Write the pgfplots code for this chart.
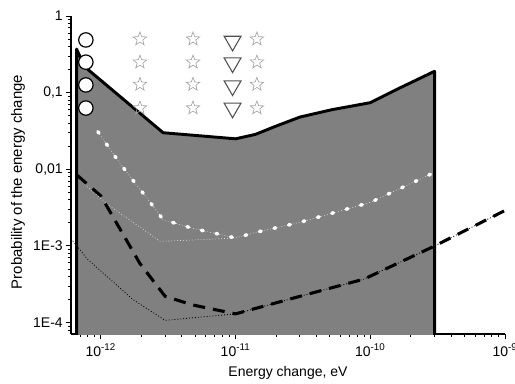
\documentclass[border=0pt]{standalone}
\usepackage{fontspec}
\setmainfont{Liberation Sans}
\usepackage{pgfplots}
\pgfplotsset{compat=1.18}
\definecolor{fillgray}{RGB}{128,128,128}
\definecolor{stargray}{RGB}{165,165,165}
\definecolor{trigray}{RGB}{80,80,80}
\pgfdeclareplotmark{ostar}{%
  \pgfpathmoveto{\pgfpointpolar{90}{\pgfplotmarksize}}%
  \pgfpathlineto{\pgfpointpolar{126}{0.42\pgfplotmarksize}}%
  \pgfpathlineto{\pgfpointpolar{162}{\pgfplotmarksize}}%
  \pgfpathlineto{\pgfpointpolar{198}{0.42\pgfplotmarksize}}%
  \pgfpathlineto{\pgfpointpolar{234}{\pgfplotmarksize}}%
  \pgfpathlineto{\pgfpointpolar{270}{0.42\pgfplotmarksize}}%
  \pgfpathlineto{\pgfpointpolar{306}{\pgfplotmarksize}}%
  \pgfpathlineto{\pgfpointpolar{342}{0.42\pgfplotmarksize}}%
  \pgfpathlineto{\pgfpointpolar{18}{\pgfplotmarksize}}%
  \pgfpathlineto{\pgfpointpolar{54}{0.42\pgfplotmarksize}}%
  \pgfpathclose
  \pgfusepathqstroke
}
\begin{document}
\begin{tikzpicture}[x=1pt,y=1pt]
\useasboundingbox (-53.25,-36.75) rectangle (333,250.5);
\begin{axis}[
  at={(0,0)}, anchor=south west,
  scale only axis, width=325.5pt, height=238.5pt,
  xmode=log, ymode=log,
  xmin=6e-13, xmax=1e-9, ymin=7.1e-5, ymax=1,
  axis lines*=left,
  axis line style={line width=0.8pt},
  every tick/.style={black, line width=0.7pt},
  tick align=outside,
  major tick length=4pt, minor tick length=2.2pt,
  xtick={1e-12,1e-11,1e-10,1e-9},
  xticklabels={10\textsuperscript{-12},10\textsuperscript{-11},10\textsuperscript{-10},10\textsuperscript{-9}},
  minor xtick={7e-13,8e-13,9e-13,2e-12,3e-12,4e-12,5e-12,6e-12,7e-12,8e-12,9e-12,2e-11,3e-11,4e-11,5e-11,6e-11,7e-11,8e-11,9e-11,2e-10,3e-10,4e-10,5e-10,6e-10,7e-10,8e-10,9e-10},
  ytick={1e-4,1e-3,1e-2,1e-1,1},
  yticklabels={1E-4,1E-3,{0,01},{0,1},1},
  minor ytick={8e-5,9e-5,2e-4,3e-4,4e-4,5e-4,6e-4,7e-4,8e-4,9e-4,2e-3,3e-3,4e-3,5e-3,6e-3,7e-3,8e-3,9e-3,2e-2,3e-2,4e-2,5e-2,6e-2,7e-2,8e-2,9e-2,0.2,0.3,0.4,0.5,0.6,0.7,0.8,0.9},
  tick label style={font=\fontsize{10.5}{11}\selectfont},
  yticklabel style={inner sep=2pt},
  xlabel={Energy change, eV},
  ylabel={Probability of the energy change},
  xlabel style={font=\fontsize{10.5}{12}\selectfont, at={(axis description cs:0.5,-0.1352)}, anchor=base},
  ylabel style={font=\fontsize{11.2}{12}\selectfont, at={(axis description cs:-0.113,0.478)}, anchor=base},
  clip mode=individual,
]
% shaded region
\addplot[fill=fillgray, draw=none] coordinates {
 (6.6e-13,1e-5) (6.6e-13,0.37) (7.6e-13,0.217) (2.9e-12,0.030) (1e-11,0.025)
 (1.4e-11,0.0285) (1.95e-11,0.036) (3e-11,0.048) (5.2e-11,0.060) (1e-10,0.074)
 (1.67e-10,0.116) (3e-10,0.19) (3e-10,1e-5)} -- cycle;
% faint light dotted line
\addplot[white!75!gray, line width=0.5pt, dash pattern=on 0.6pt off 1.6pt] coordinates {
 (7.6e-13,0.0063) (1.17e-12,0.0033) (2.75e-12,0.00115) (5e-12,0.0012) (1e-11,0.00127)};
% white dotted line
\addplot[white!80!gray, line width=0.4pt, dash pattern=on 0.6pt off 1.6pt] coordinates {
 (9.5e-13,0.031) (1.34e-12,0.013) (1.73e-12,0.0072) (2.25e-12,0.004) (2.9e-12,0.0022)
 (4.8e-12,0.0017) (1e-11,0.00127) (1.4e-11,0.0015) (2.9e-11,0.0020) (1e-10,0.0037)
 (2.1e-10,0.0068) (3e-10,0.0091)};
\addplot[white, line width=2.6pt, line cap=round, dash pattern=on 1.4pt off 9.8pt] coordinates {
 (9.5e-13,0.031) (1.34e-12,0.013) (1.73e-12,0.0072) (2.25e-12,0.004) (2.9e-12,0.0022)
 (4.8e-12,0.0017) (1e-11,0.00127) (1.4e-11,0.0015) (2.9e-11,0.0020) (1e-10,0.0037)
 (2.1e-10,0.0068) (3e-10,0.0091)};
% thin black dotted line
\addplot[black, line width=0.6pt, dash pattern=on 0.7pt off 1.5pt] coordinates {
 (6e-13,1.25e-3) (7.9e-13,6.8e-4) (1.73e-12,2.0e-4) (3e-12,1.07e-4) (1e-11,1.3e-4)
 (3e-11,2.2e-4) (9e-11,3.7e-4) (2.9e-10,9.7e-4) (1e-9,2.9e-3)};
% thick black dashed line
\addplot[black, line width=2.3pt, dash pattern=on 9pt off 6pt] coordinates {
 (6.7e-13,0.0083) (1e-12,0.0045) (1.95e-12,5.9e-4) (3e-12,2.2e-4) (4.8e-12,1.7e-4)
 (1e-11,1.3e-4) (3e-11,2.2e-4) (9e-11,3.7e-4) (2.9e-10,9.7e-4) (1e-9,2.9e-3)};
% outline of shaded region
\addplot[black, line width=2.2pt, line join=round] coordinates {
 (6.6e-13,1e-5) (6.6e-13,0.37) (7.6e-13,0.217) (2.9e-12,0.030) (1e-11,0.025)
 (1.4e-11,0.0285) (1.95e-11,0.036) (3e-11,0.048) (5.2e-11,0.060) (1e-10,0.074)
 (1.67e-10,0.116) (3e-10,0.19) (3e-10,1e-5)};
% circles
\addplot[only marks, mark=*, mark size=5.4pt, mark options={fill=white, draw=black, line width=0.9pt}] coordinates {
 (7.74e-13,0.487) (7.74e-13,0.25) (7.74e-13,0.126) (7.74e-13,0.063)};
% stars
\addplot[only marks, mark=ostar, mark size=5.3pt, mark options={draw=stargray, line width=0.5pt}] coordinates {
 (1.95e-12,0.5) (1.95e-12,0.25) (1.95e-12,0.128) (1.95e-12,0.063)
 (4.83e-12,0.5) (4.83e-12,0.25) (4.83e-12,0.128) (4.83e-12,0.063)
 (1.44e-11,0.5) (1.44e-11,0.25) (1.44e-11,0.128) (1.44e-11,0.063)};
% triangles
\addplot[only marks, mark=triangle, mark size=7.3pt, mark options={rotate=180, draw=trigray, line width=0.8pt}] coordinates {
 (9.5e-12,0.47) (9.5e-12,0.245) (9.5e-12,0.123) (9.5e-12,0.063)};
\end{axis}
\end{tikzpicture}
\end{document}
